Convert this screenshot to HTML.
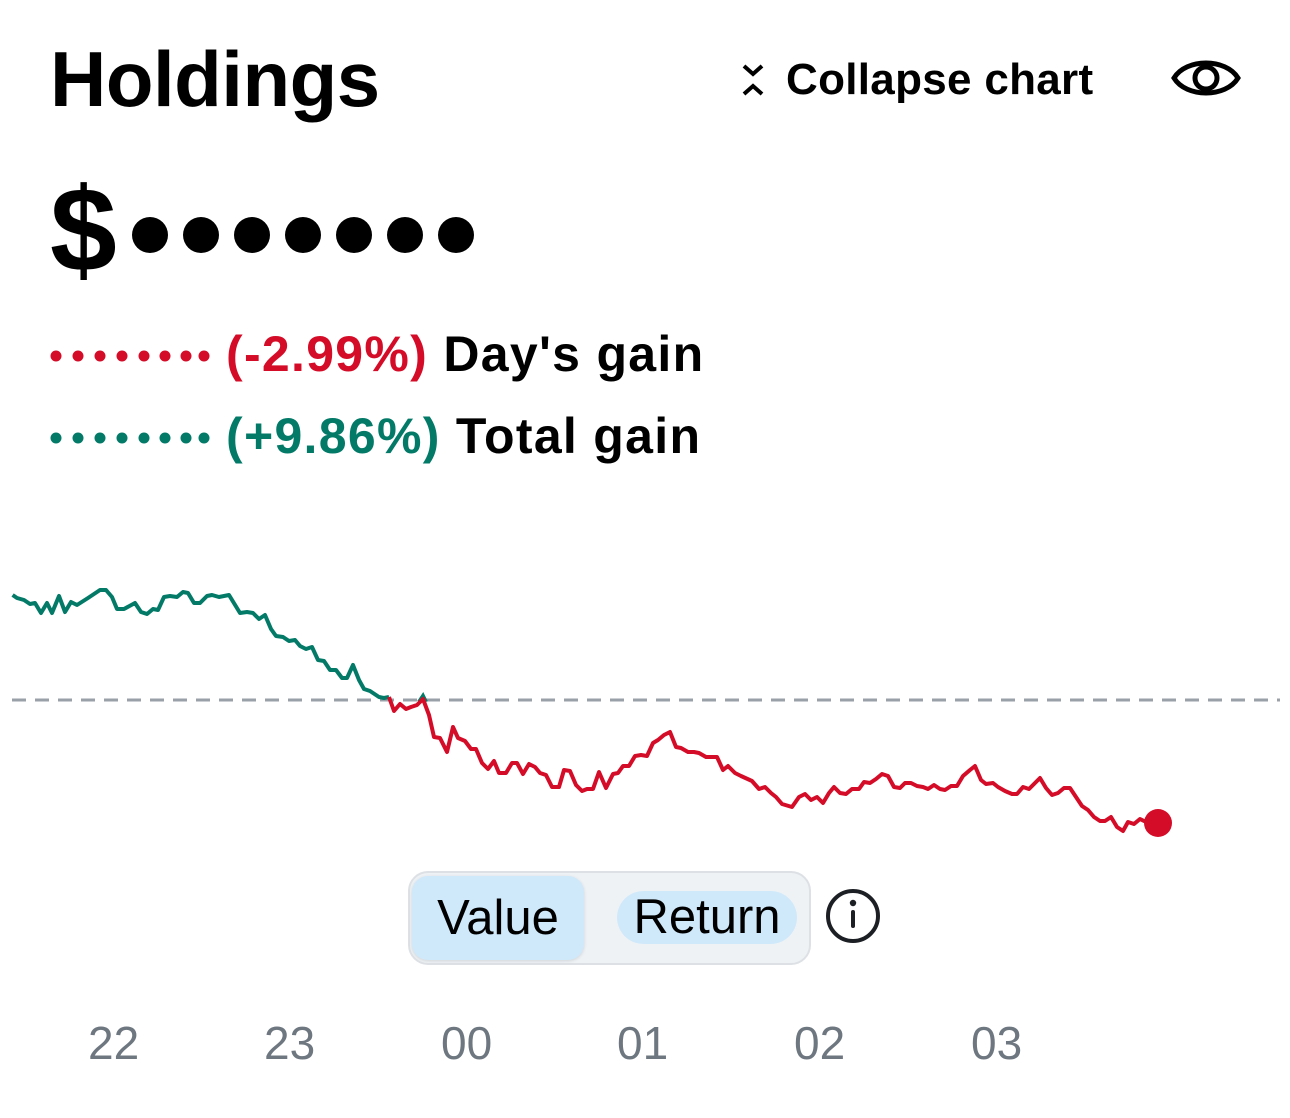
<!DOCTYPE html>
<html><head><style>
html,body{margin:0;padding:0;background:#fff;width:1290px;height:1118px;overflow:hidden;font-family:"Liberation Sans",sans-serif;color:#000}
.a{position:absolute;white-space:nowrap}
</style></head><body>
<div class="a" style="left:50px;top:34px;font-size:78px;font-weight:bold;letter-spacing:-0.5px;line-height:90px">Holdings</div>
<div class="a" style="left:738px;top:54px;font-size:44px;font-weight:bold;line-height:52px;letter-spacing:0.3px">
<svg width="32" height="40" viewBox="0 0 32 40" style="vertical-align:-6px;margin-right:16px"><path d="M6 6 L15 14 L24 6 M6 34 L15 26 L24 34" fill="none" stroke="#000" stroke-width="4"/></svg>Collapse chart</div>
<svg class="a" style="left:1170px;top:52px" width="72" height="52" viewBox="0 0 72 52"><path d="M4 26 C16 6 56 6 68 26 C56 46 16 46 4 26 Z" fill="none" stroke="#000" stroke-width="5"/><circle cx="36" cy="26" r="11" fill="none" stroke="#000" stroke-width="5"/></svg>
<div class="a" style="left:50px;top:160px;font-size:120px;font-weight:bold;line-height:140px">$</div>
<svg class="a" style="left:130px;top:212px" width="350" height="46"><g fill="#000"><circle cx="20" cy="23" r="18"/><circle cx="71" cy="23" r="18"/><circle cx="122" cy="23" r="18"/><circle cx="173" cy="23" r="18"/><circle cx="224" cy="23" r="18"/><circle cx="275" cy="23" r="18"/><circle cx="326" cy="23" r="18"/></g></svg>
<svg class="a" style="left:48px;top:345px" width="165" height="110"><g fill="#d50c28"><circle cx="8" cy="11" r="5.5"/><circle cx="30" cy="11" r="5.5"/><circle cx="52" cy="11" r="5.5"/><circle cx="74" cy="11" r="5.5"/><circle cx="96" cy="11" r="5.5"/><circle cx="117" cy="11" r="5.5"/><circle cx="138" cy="11" r="5.5"/><circle cx="156" cy="11" r="5.5"/></g><g fill="#037a68"><circle cx="8" cy="93" r="5.5"/><circle cx="30" cy="93" r="5.5"/><circle cx="52" cy="93" r="5.5"/><circle cx="74" cy="93" r="5.5"/><circle cx="96" cy="93" r="5.5"/><circle cx="117" cy="93" r="5.5"/><circle cx="138" cy="93" r="5.5"/><circle cx="156" cy="93" r="5.5"/></g></svg>
<div class="a" style="left:226px;top:326px;font-size:50px;line-height:56px;letter-spacing:1.3px"><span style="color:#d50c28;font-weight:600">(-2.99%)</span> <b>Day's gain</b></div>
<div class="a" style="left:226px;top:408px;font-size:50px;line-height:56px;letter-spacing:1.3px"><span style="color:#037a68;font-weight:600">(+9.86%)</span> <b>Total gain</b></div>
<svg class="a" style="left:0;top:0" width="1290" height="1118">
<line x1="12" y1="700" x2="1280" y2="700" stroke="#9aa0a8" stroke-width="3" stroke-dasharray="14,9"/>
<polyline fill="none" stroke="#037a68" stroke-width="4" stroke-linejoin="round" points="12.6,595 17,598 24,600 30,604 35,603 41,613 47,603 52,613 59,596 65,612 71,602 77,605 88,598 100,590 106,590 112,597 117,609 124,609 135,603 141,612 147,614 153,609 158,610 164,597 170,596 177,597 183,592 188,593 194,603 200,603 207,596 212,595 219,597 229,595 240,613 247,612 253,613 259,619 265,615 271,629 276,636 283,637 289,641 295,640 300,646 306,649 312,647 318,660 324,661 330,670 336,670 342,678 347,678 353,665 359,680 364,689 370,691 379,697 384,698 389,697"/>
<polyline fill="none" stroke="#037a68" stroke-width="4" points="419,702 423,696 426,702"/>
<polyline fill="none" stroke="#d50c28" stroke-width="4" stroke-linejoin="round" points="389,697 394,711 400,704 406,709 411,707 417,705 423,699 429,715 434,737 440,738 447,752 453,727 458,738 465,741 471,749 476,749 482,763 488,769 494,761 499,773 506,773 512,763 517,763 523,774 529,764 535,767 540,773 546,775 552,787 559,787 564,770 570,771 576,785 582,791 587,789 593,789 599,772 606,788 613,774 618,773 623,766 629,766 635,756 641,755 647,756 653,743 658,740 664,735 670,732 676,747 681,748 688,752 694,752 699,753 706,757 717,757 723,770 728,766 735,773 741,776 752,781 759,789 765,787 771,793 776,797 782,804 792,807 799,797 805,794 811,800 817,797 823,803 829,793 834,787 840,793 846,794 852,789 859,789 864,782 870,783 876,779 882,774 888,776 894,787 900,788 905,783 911,783 917,786 923,787 928,789 934,785 940,789 945,790 951,786 957,786 963,776 970,770 975,766 981,780 986,784 993,783 998,787 1005,791 1012,794 1017,794 1023,787 1029,789 1034,784 1040,778 1046,788 1052,795 1058,793 1064,788 1070,788 1076,797 1082,806 1088,810 1094,817 1100,821 1105,821 1111,817 1117,827 1123,831 1128,822 1134,824 1140,819 1144,821 1158,823"/>
<circle cx="1158" cy="823" r="14" fill="#d50c28"/>
<circle cx="853" cy="916" r="25" fill="none" stroke="#1c1f24" stroke-width="4"/>
<circle cx="853" cy="903" r="3.2" fill="#1c1f24"/>
<rect x="851" y="910" width="4" height="18" rx="2" fill="#1c1f24"/>
</svg>
<div class="a" style="left:408px;top:871px;width:399px;height:90px;background:#eef2f5;border:2px solid #dde1e5;border-radius:20px"></div>
<div class="a" style="left:412px;top:876px;width:172px;height:84px;background:#cfe9fb;border-radius:16px;box-shadow:0 1px 3px rgba(0,0,0,0.12);font-size:49px;line-height:84px;text-align:center">Value</div>
<div class="a" style="left:617px;top:891px;width:180px;height:53px;background:#cfe9fb;border-radius:27px;font-size:49px;line-height:53px;text-align:center">Return</div>
<div class="a" style="top:1016px;left:0;width:1290px;font-size:46px;color:#6e7780;line-height:54px">
<span class="a" style="left:88px">22</span><span class="a" style="left:264px">23</span><span class="a" style="left:441px">00</span><span class="a" style="left:617px">01</span><span class="a" style="left:794px">02</span><span class="a" style="left:971px">03</span></div>
</body></html>
